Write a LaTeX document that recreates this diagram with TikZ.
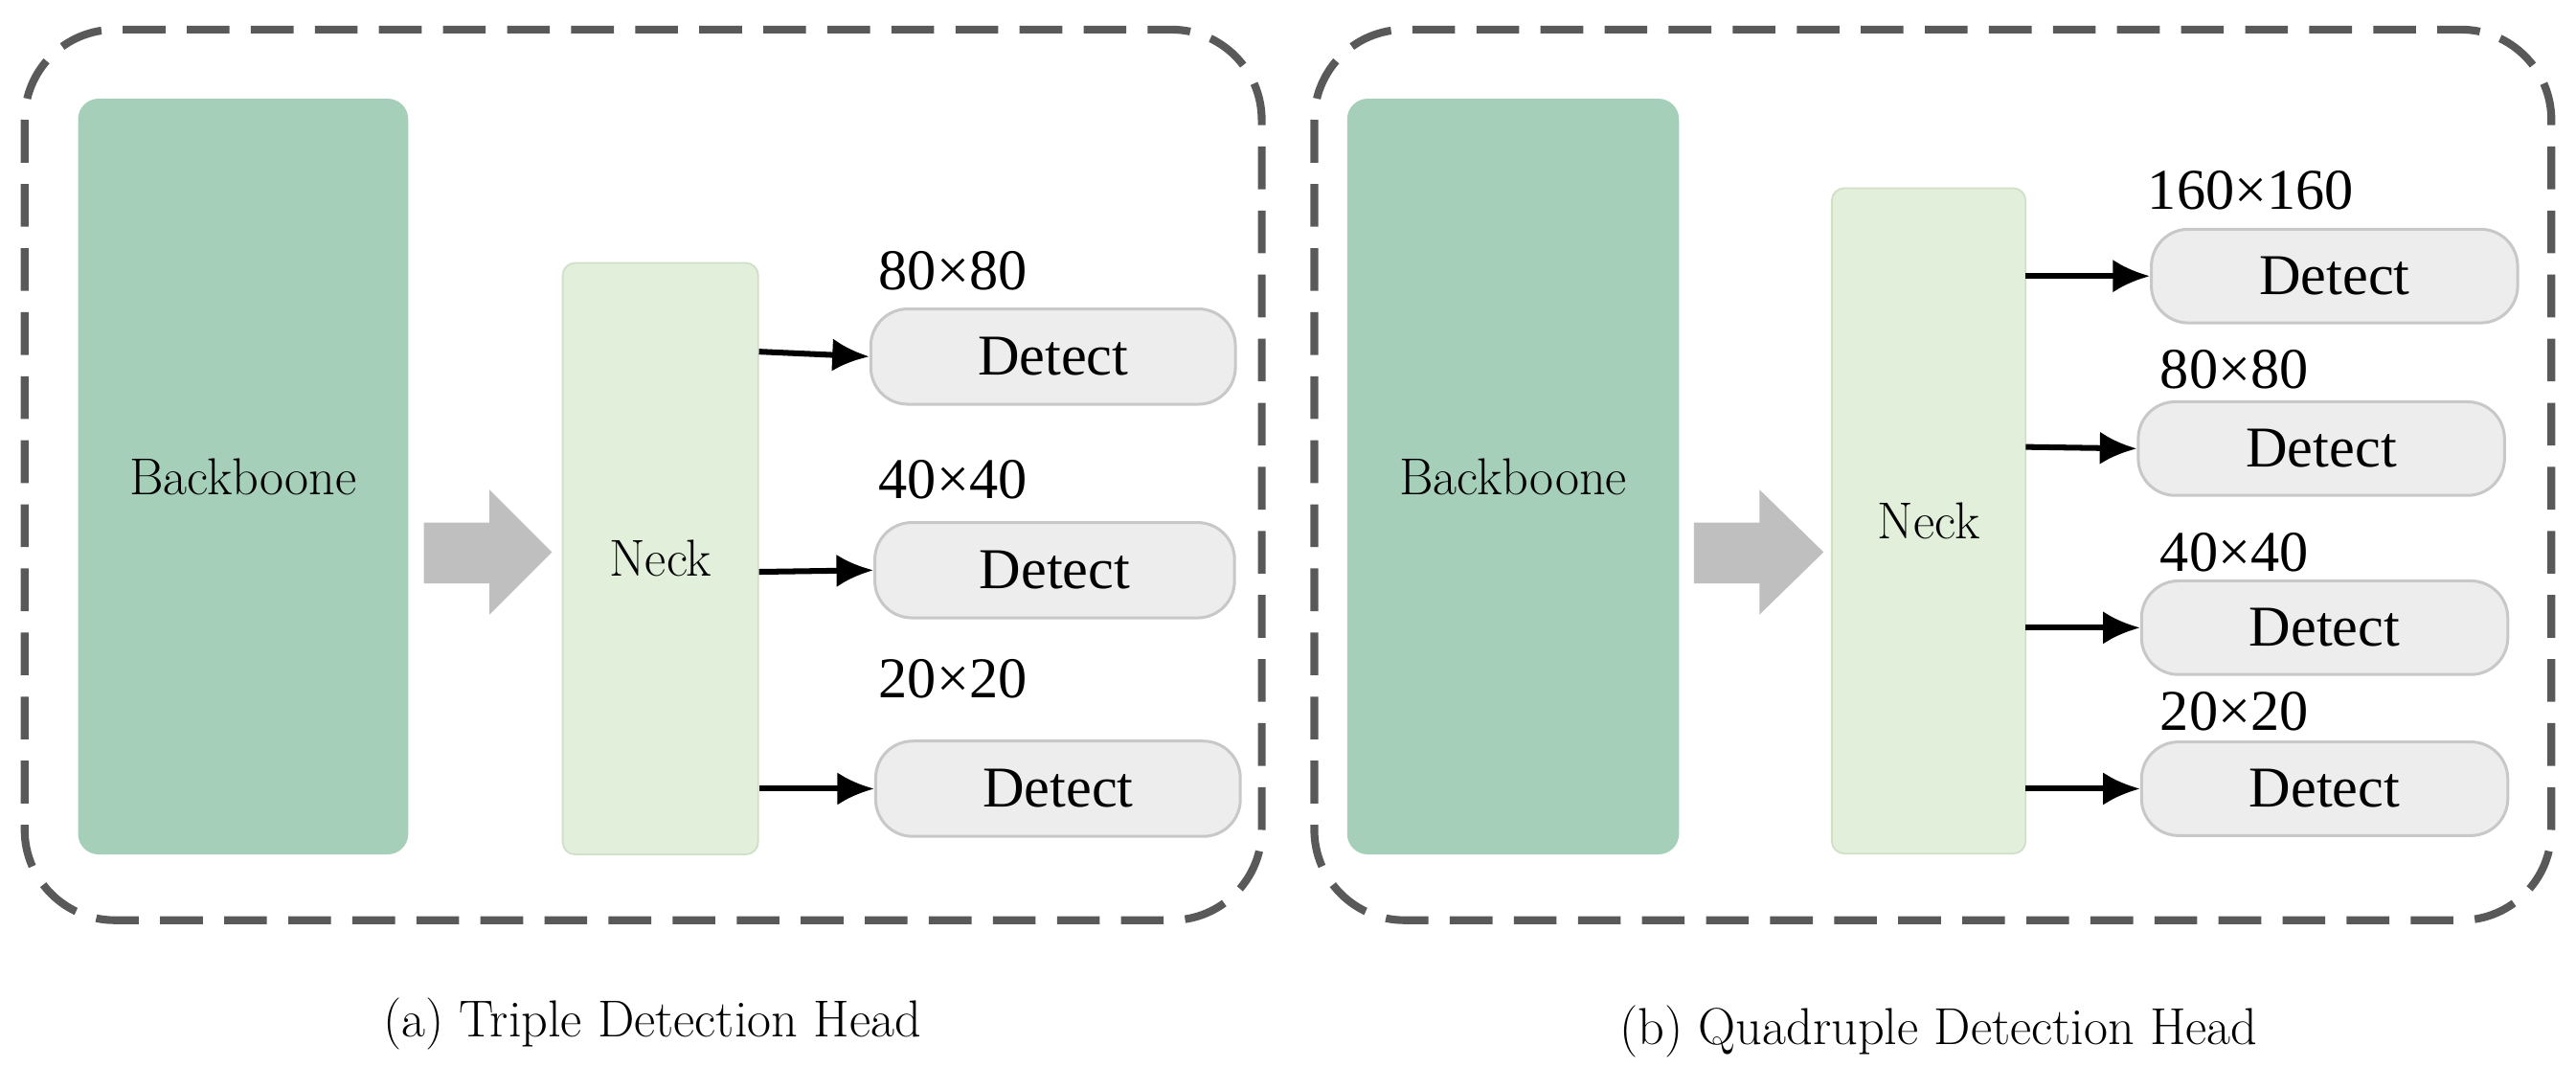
\documentclass[tikz,border=0pt]{standalone}
\usepackage{fontspec}
\usetikzlibrary{arrows.meta}
\newfontfamily\tms{Liberation Serif}
\begin{document}
\begin{tikzpicture}[x=0.02cm,y=-0.02cm,
 frame/.style={draw={rgb,255:red,89;green,89;blue,89},line width=2.7pt,dash pattern=on 0.52cm off 0.26cm,rounded corners=1.1cm},
 bb/.style={fill={rgb,255:red,165;green,207;blue,185},rounded corners=0.25cm,font=\fontsize{18}{20}\selectfont},
 neck/.style={fill={rgb,255:red,226;green,239;blue,218},draw={rgb,255:red,208;green,224;blue,200},line width=0.6pt,rounded corners=0.15cm,font=\fontsize{18}{20}\selectfont},
 det/.style={draw={rgb,255:red,200;green,200;blue,200},line width=1pt,fill={rgb,255:red,237;green,237;blue,237},rounded corners=0.45cm,font=\tms\fontsize{20}{22}\selectfont},
 lbl/.style={font=\tms\fontsize{20}{22}\selectfont},
 captxt/.style={font=\fontsize{18}{20}\selectfont},
 arr/.style={line width=2pt,-{Latex[length=0.45cm,width=0.4cm]}},
 big/.style={fill={rgb,255:red,191;green,191;blue,191},draw=none}]
\useasboundingbox (0,0) rectangle (1568,663);
\draw[frame] (15,18) rectangle (768,560);
\draw[frame] (800,18) rectangle (1553,560);
% (a)
\node[bb,minimum width=4.02cm,minimum height=9.2cm] (b1) at (148,290) {Backboone};
\fill[big] (258,318) -- (298,318) -- (298,298) -- (336,336) -- (298,374) -- (298,355) -- (258,355) -- cycle;
\node[neck,minimum width=2.38cm,minimum height=7.2cm] (n1) at (402,340) {Neck};
\node[det,minimum width=4.44cm,minimum height=1.16cm] (d1) at (641,217) {Detect};
\node[det,minimum width=4.38cm,minimum height=1.16cm] (d2) at (642,347) {Detect};
\node[det,minimum width=4.44cm,minimum height=1.16cm] (d3) at (644,480) {Detect};
\node[lbl] (l1) at (580,165) {80×80};
\node[lbl] (l2) at (580,292) {40×40};
\node[lbl] (l3) at (580,413) {20×20};
\coordinate (s1) at (462,214); \coordinate (s2) at (462,348); \coordinate (s3) at (462,480);
\draw[arr] (s1) -- (d1.west);
\draw[arr] (s2) -- (d2.west);
\draw[arr] (s3) -- (d3.west);
\node[captxt] (c1) at (397,623) {(a) Triple Detection Head};
% (b)
\node[bb,minimum width=4.04cm,minimum height=9.2cm] (b2) at (921,290) {Backboone};
\fill[big] (1031,318) -- (1071,318) -- (1071,298) -- (1110,336) -- (1071,374) -- (1071,355) -- (1031,355) -- cycle;
\node[neck,minimum width=2.36cm,minimum height=8.1cm] (n2) at (1174,317) {Neck};
\node[det,minimum width=4.46cm,minimum height=1.14cm] (e1) at (1421,168) {Detect};
\node[det,minimum width=4.46cm,minimum height=1.14cm] (e2) at (1413,273) {Detect};
\node[det,minimum width=4.46cm,minimum height=1.14cm] (e3) at (1415,382) {Detect};
\node[det,minimum width=4.46cm,minimum height=1.14cm] (e4) at (1415,480) {Detect};
\node[lbl] (k1) at (1370,116) {160×160};
\node[lbl] (k2) at (1360,225) {80×80};
\node[lbl] (k3) at (1360,336) {40×40};
\node[lbl] (k4) at (1360,433) {20×20};
\coordinate (t1) at (1233,168); \coordinate (t2) at (1233,272); \coordinate (t3) at (1233,382); \coordinate (t4) at (1233,480);
\draw[arr] (t1) -- (e1.west);
\draw[arr] (t2) -- (e2.west);
\draw[arr] (t3) -- (e3.west);
\draw[arr] (t4) -- (e4.west);
\node[captxt] (c2) at (1180,628) {(b) Quadruple Detection Head};
\end{tikzpicture}
\end{document}
